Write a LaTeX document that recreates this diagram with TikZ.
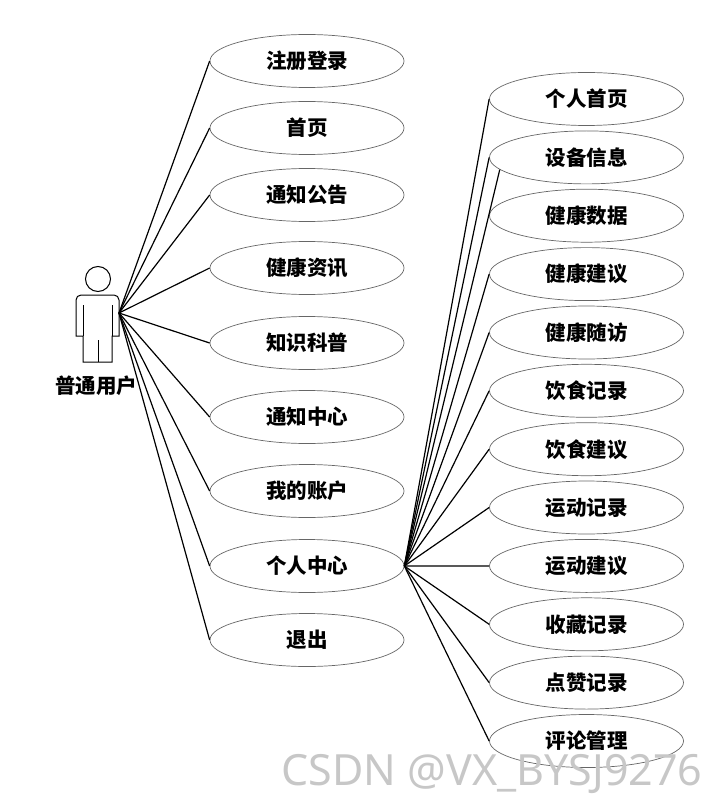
\documentclass[tikz,border=0pt]{standalone}
\usepackage{fontspec}
\newfontfamily\cjk{Noto Sans CJK SC}
\newfontfamily\wmfont{Noto Sans}
\usetikzlibrary{shapes.geometric}
\tikzset{
  uc/.style={ellipse, draw=black!60, line width=0.7pt, minimum width=194pt, minimum height=53pt, inner sep=0pt,
    font=\cjk\bfseries\fontsize{20.5}{20.5}\selectfont},
  link/.style={line width=1.2pt, black},
  actorline/.style={line width=1pt, black},
}
\begin{document}
\begin{tikzpicture}[x=1pt,y=-1pt]
\useasboundingbox (0,0) rectangle (717,802);
% actor
\draw[actorline] (98,279) circle (12.5);
\draw[actorline] (76,336) -- (76,300) arc[start angle=180,end angle=270,radius=5] -- (114,295)
  arc[start angle=270,end angle=360,radius=5] -- (119,336) -- (112,336) -- (112,362) -- (83,362) -- (83,336) -- cycle;
\draw[actorline] (83,305) -- (83,336);
\draw[actorline] (112,305) -- (112,336);
\draw[actorline] (98,340) -- (98,362);
\node[font=\cjk\bfseries\fontsize{20.5}{20.5}\selectfont] (actlabel) at (96,386) {普通用户};
\coordinate (actor) at (119,313);
% left use cases
\node[uc] (l1) at (307,61) {注册登录};
\node[uc] (l2) at (307,128) {首页};
\node[uc] (l3) at (307,195) {通知公告};
\node[uc] (l4) at (307,268) {健康资讯};
\node[uc] (l5) at (307,343) {知识科普};
\node[uc] (l6) at (307,417) {通知中心};
\node[uc] (l7) at (307,491) {我的账户};
\node[uc] (l8) at (307,566) {个人中心};
\node[uc] (l9) at (307,640) {退出};
\foreach \i in {1,...,9} \draw[link] (actor) -- (l\i.west);
% right use cases
\node[uc] (r1) at (586.5,99) {个人首页};
\node[uc] (r2) at (586.5,157.4) {设备信息};
\node[uc] (r3) at (586.5,215.7) {健康数据};
\node[uc] (r4) at (586.5,274.1) {健康建议};
\node[uc] (r5) at (586.5,332.5) {健康随访};
\node[uc] (r6) at (586.5,390.8) {饮食记录};
\node[uc] (r7) at (586.5,449.2) {饮食建议};
\node[uc] (r8) at (586.5,507.5) {运动记录};
\node[uc] (r9) at (586.5,565.9) {运动建议};
\node[uc] (r10) at (586.5,624.3) {收藏记录};
\node[uc] (r11) at (586.5,682.6) {点赞记录};
\node[uc] (r12) at (586.5,741) {评论管理};
\draw[link] (l8.east) -- (r1.west);
\draw[link] (l8.east) -- (r2.west);
\draw[link] (l8.east) -- (r2.188);
\foreach \i in {4,...,12} \draw[link] (l8.east) -- (r\i.west);
% watermark
\node[font=\wmfont\fontsize{43}{43}\selectfont, text=black!22, inner sep=0pt] (wm) at (492,774) {CSDN @VX\_BYSJ9276};
\end{tikzpicture}
\end{document}
